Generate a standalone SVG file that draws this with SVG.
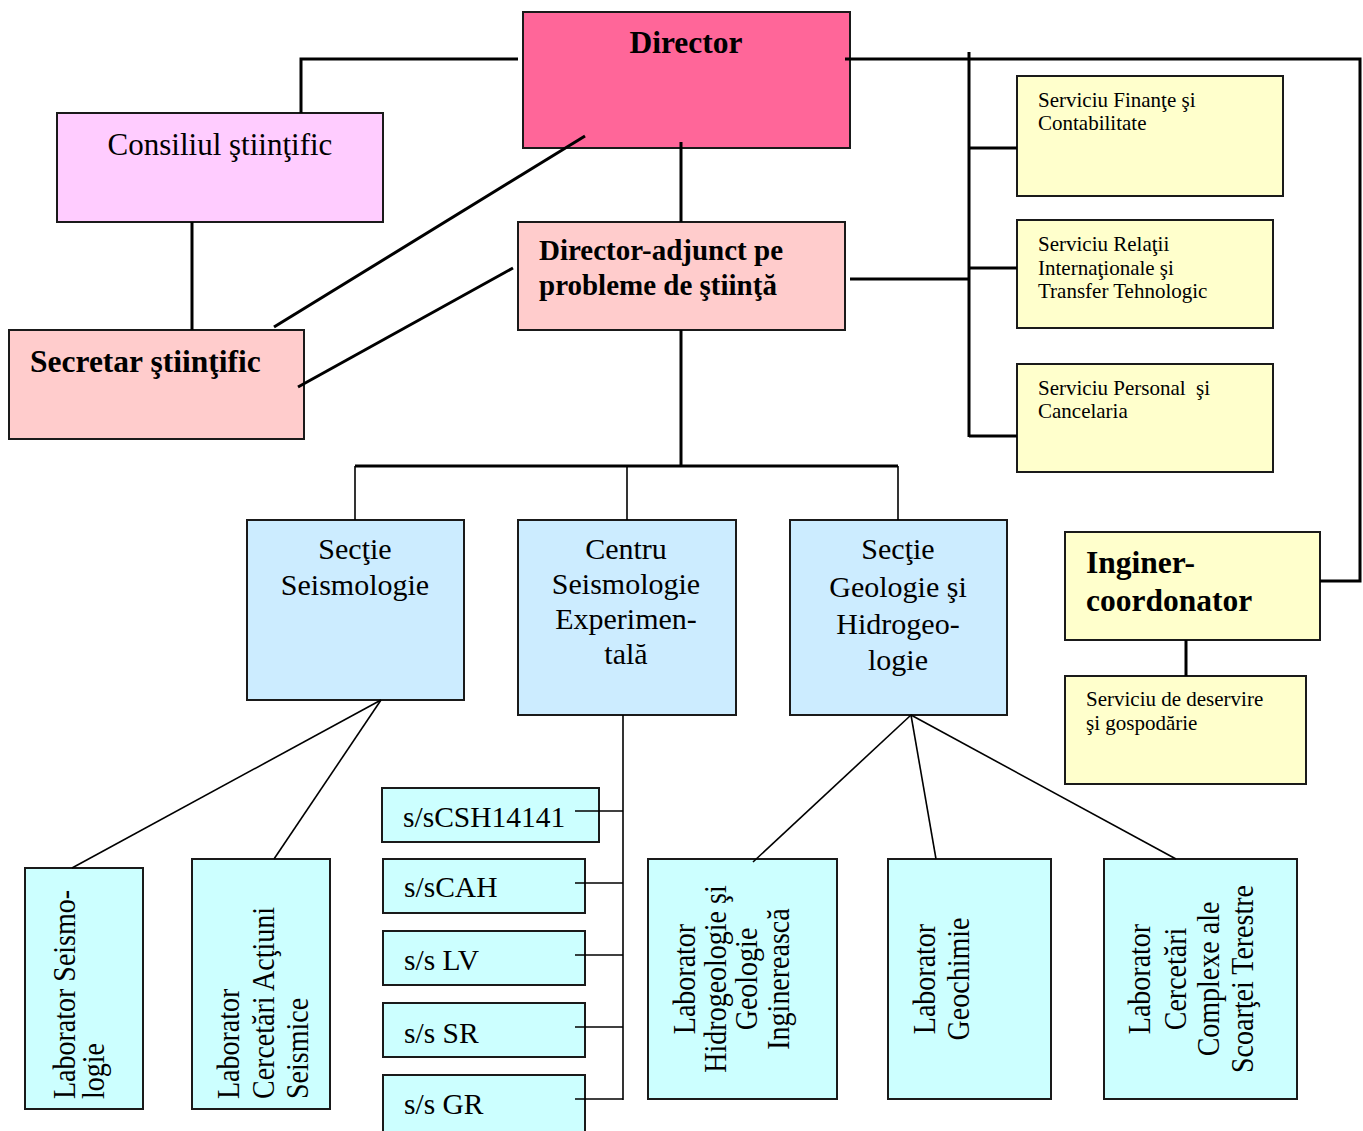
<svg xmlns="http://www.w3.org/2000/svg" width="1363" height="1131" viewBox="0 0 1363 1131">
<style>
text{font-family:"Liberation Serif","Times New Roman",serif;fill:#000}
.box{stroke:#1a1a1a;stroke-width:2}
.dir{fill:#FF6699}
.pink{fill:#FFCCCC}
.mag{fill:#FFCCFF}
.yel{fill:#FFFFCC}
.sec{fill:#CCECFF}
.cyan{fill:#CCFFFF}
.b31{font-size:31.5px;font-weight:bold}
.b29{font-size:29px;font-weight:bold}
.r31{font-size:31px}
.s30{font-size:30px;text-anchor:middle}
.ss{font-size:29.5px}
.sv{font-size:21px}
.vt{font-size:28px}
.vc{font-size:28px;text-anchor:middle}
.thick{stroke:#000;stroke-width:3;fill:none}
.thin{stroke:#000;stroke-width:1.6;fill:none}
</style>
<g id="director"><rect class="box dir" x="523" y="12" width="327" height="136"/><text class="b31" x="686" y="53" text-anchor="middle">Director</text></g>
<g id="consiliul"><rect class="box mag" x="57" y="113" width="326" height="109"/><text class="r31" x="220" y="155" text-anchor="middle">Consiliul ştiinţific</text></g>
<g id="director-adjunct"><rect class="box pink" x="518" y="222" width="327" height="108"/><text class="b29" x="539" y="260">Director-adjunct pe</text><text class="b29" x="539" y="295">probleme de ştiinţă</text></g>
<g id="secretar"><rect class="box pink" x="9" y="330" width="295" height="109"/><text class="b31" x="30" y="372">Secretar ştiinţific</text></g>
<g id="finante"><rect class="box yel" x="1017" y="76" width="266" height="120"/><text class="sv" x="1038" y="107">Serviciu Finanţe şi</text><text class="sv" x="1038" y="130">Contabilitate</text></g>
<g id="relatii"><rect class="box yel" x="1017" y="220" width="256" height="108"/><text class="sv" x="1038" y="251">Serviciu Relaţii</text><text class="sv" x="1038" y="275">Internaţionale şi</text><text class="sv" x="1038" y="298">Transfer Tehnologic</text></g>
<g id="personal"><rect class="box yel" x="1017" y="364" width="256" height="108"/><text class="sv" x="1038" y="395" xml:space="preserve">Serviciu Personal  şi</text><text class="sv" x="1038" y="418">Cancelaria</text></g>
<g id="inginer"><rect class="box yel" x="1065" y="532" width="255" height="108"/><text class="b31" x="1086" y="573">Inginer-</text><text class="b31" x="1086" y="611">coordonator</text></g>
<g id="deservire"><rect class="box yel" x="1065" y="676" width="241" height="108"/><text class="sv" x="1086" y="706">Serviciu de deservire</text><text class="sv" x="1086" y="730">şi gospodărie</text></g>
<g id="sectie-seismologie"><rect class="box sec" x="247" y="520" width="217" height="180"/><text class="s30" x="355" y="559">Secţie</text><text class="s30" x="355" y="595">Seismologie</text></g>
<g id="centru"><rect class="box sec" x="518" y="520" width="218" height="195"/><text class="s30" x="626" y="559">Centru</text><text class="s30" x="626" y="594">Seismologie</text><text class="s30" x="626" y="629">Experimen-</text><text class="s30" x="626" y="664">tală</text></g>
<g id="sectie-geologie"><rect class="box sec" x="790" y="520" width="217" height="195"/><text class="s30" x="898" y="559">Secţie</text><text class="s30" x="898" y="597">Geologie şi</text><text class="s30" x="898" y="634">Hidrogeo-</text><text class="s30" x="898" y="670">logie</text></g>
<g id="ss-csh"><rect class="box cyan" x="382" y="788" width="217" height="54"/><text class="ss" x="403" y="827">s/sCSH14141</text></g>
<g id="ss-cah"><rect class="box cyan" x="383" y="859" width="202" height="54"/><text class="ss" x="404" y="897">s/sCAH</text></g>
<g id="ss-lv"><rect class="box cyan" x="383" y="931" width="202" height="54"/><text class="ss" x="404" y="970">s/s LV</text></g>
<g id="ss-sr"><rect class="box cyan" x="383" y="1003" width="202" height="54"/><text class="ss" x="404" y="1043">s/s SR</text></g>
<g id="ss-gr"><rect class="box cyan" x="383" y="1075" width="202" height="70"/><text class="ss" x="404" y="1114">s/s GR</text></g>
<g id="lab-seismologie"><rect class="box cyan" x="25" y="868" width="118" height="241"/>
<text class="vt" transform="translate(75,1099) rotate(-90) scale(1,1.12)">Laborator Seismo-</text>
<text class="vt" transform="translate(104,1099) rotate(-90) scale(1,1.12)">logie</text></g>
<g id="lab-actiuni"><rect class="box cyan" x="192" y="859" width="138" height="250"/>
<text class="vt" transform="translate(239,1099) rotate(-90) scale(1,1.12)">Laborator</text>
<text class="vt" transform="translate(274,1099) rotate(-90) scale(1,1.12)">Cercetări Acţiuni</text>
<text class="vt" transform="translate(308,1099) rotate(-90) scale(1,1.12)">Seismice</text></g>
<g id="lab-hidro"><rect class="box cyan" x="648" y="859" width="189" height="240"/>
<text class="vc" transform="translate(695,979) rotate(-90) scale(1,1.12)">Laborator</text>
<text class="vc" transform="translate(726,979) rotate(-90) scale(1,1.12)">Hidrogeologie şi</text>
<text class="vc" transform="translate(757,979) rotate(-90) scale(1,1.12)">Geologie</text>
<text class="vc" transform="translate(789,979) rotate(-90) scale(1,1.12)">Inginerească</text></g>
<g id="lab-geochimie"><rect class="box cyan" x="888" y="859" width="163" height="240"/>
<text class="vc" transform="translate(935,979) rotate(-90) scale(1,1.12)">Laborator</text>
<text class="vc" transform="translate(969,979) rotate(-90) scale(1,1.12)">Geochimie</text></g>
<g id="lab-scoarta"><rect class="box cyan" x="1104" y="859" width="193" height="240"/>
<text class="vc" transform="translate(1150,979) rotate(-90) scale(1,1.12)">Laborator</text>
<text class="vc" transform="translate(1186,979) rotate(-90) scale(1,1.12)">Cercetări</text>
<text class="vc" transform="translate(1219,979) rotate(-90) scale(1,1.12)">Complexe ale</text>
<text class="vc" transform="translate(1253,979) rotate(-90) scale(1,1.12)">Scoarţei Terestre</text></g>
<g id="connectors">
<polyline class="thick" points="518,59 301,59 301,113"/>
<polyline class="thick" points="845,59 1360,59 1360,581 1320,581"/>
<line class="thick" x1="969" y1="52" x2="969" y2="437"/>
<line class="thick" x1="969" y1="148" x2="1017" y2="148"/>
<line class="thick" x1="969" y1="268" x2="1017" y2="268"/>
<line class="thick" x1="969" y1="436" x2="1017" y2="436"/>
<line class="thick" x1="850" y1="279" x2="969" y2="279"/>
<line class="thick" x1="681" y1="142" x2="681" y2="222"/>
<line class="thick" x1="585" y1="136" x2="274" y2="327"/>
<line class="thick" x1="513" y1="268" x2="298" y2="387"/>
<line class="thick" x1="192" y1="222" x2="192" y2="330"/>
<line class="thick" x1="681" y1="330" x2="681" y2="466"/>
<line class="thick" x1="355" y1="466" x2="898" y2="466"/>
<line class="thin" x1="355" y1="466" x2="355" y2="520"/>
<line class="thin" x1="627" y1="466" x2="627" y2="520"/>
<line class="thin" x1="898" y1="466" x2="898" y2="520"/>
<line class="thick" x1="1186" y1="640" x2="1186" y2="676"/>
<line class="thin" x1="381" y1="700" x2="72" y2="868"/>
<line class="thin" x1="381" y1="700" x2="274" y2="859"/>
<line class="thin" x1="911" y1="715" x2="753" y2="862"/>
<line class="thin" x1="911" y1="715" x2="936" y2="859"/>
<line class="thin" x1="911" y1="715" x2="1176" y2="859"/>
<line class="thin" x1="623" y1="715" x2="623" y2="1100"/>
<line class="thin" x1="575" y1="811" x2="623" y2="811"/>
<line class="thin" x1="575" y1="883" x2="623" y2="883"/>
<line class="thin" x1="575" y1="955" x2="623" y2="955"/>
<line class="thin" x1="575" y1="1027" x2="623" y2="1027"/>
<line class="thin" x1="575" y1="1099" x2="623" y2="1099"/>
</g>
</svg>
